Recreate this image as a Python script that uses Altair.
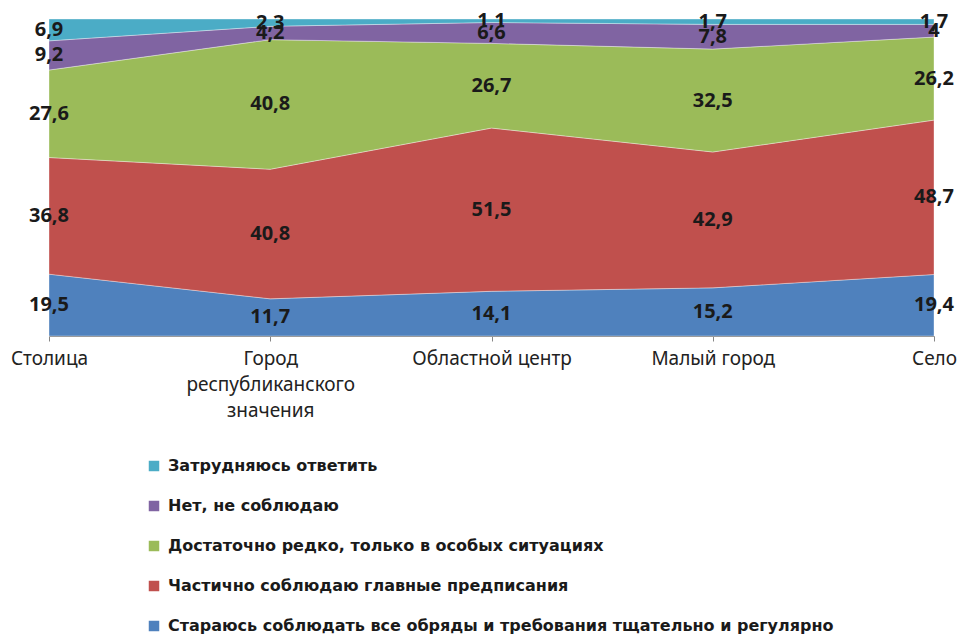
import altair as alt
import pandas as pd

categories = ["Столица", "Город\nреспубликанского\nзначения", "Областной центр", "Малый город", "Село"]

# series, bottom to top of the stack
series_names = [
    "Стараюсь соблюдать все обряды и требования тщательно и регулярно",
    "Частично соблюдаю главные предписания",
    "Достаточно редко, только в особых ситуациях",
    "Нет, не соблюдаю",
    "Затрудняюсь ответить",
]
s_regular = [19.5, 11.7, 14.1, 15.2, 19.4]
s_partly = [36.8, 40.8, 51.5, 42.9, 48.7]
s_rarely = [27.6, 40.8, 26.7, 32.5, 26.2]
s_no = [9.2, 4.2, 6.6, 7.8, 4.0]
s_hard = [6.9, 2.3, 1.1, 1.7, 1.7]
series_values = [s_regular, s_partly, s_rarely, s_no, s_hard]
series_colors = ["#4F81BD", "#C0504D", "#9BBB59", "#8064A2", "#4BACC6"]

rows = []
for i, (name, vals) in enumerate(zip(series_names, series_values)):
    for c, v in zip(categories, vals):
        rows.append({"cat": c, "series": name, "value": v, "order": i})
df = pd.DataFrame(rows)

legend_order = list(reversed(series_names))
legend_colors = list(reversed(series_colors))

base = alt.Chart(df).transform_stack(
    stack="value",
    groupby=["cat"],
    sort=[alt.SortField("order", order="ascending")],
    as_=["y0", "y1"],
    offset="normalize",
).transform_calculate(
    mid="(datum.y0 + datum.y1) / 2",
    lab="replace(format(datum.value, '.1~f'), '.', ',')",
)

x_enc = alt.X(
    "cat:N",
    sort=categories,
    scale=alt.Scale(type="point", padding=0),
    axis=alt.Axis(
        title=None,
        labelAngle=0,
        labelExpr="split(datum.label, '\\n')",
        labelFont="Noto Sans",
        labelFontSize=19,
        labelColor="#222222",
        labelLineHeight=26,
        labelPadding=8,
        tickSize=5,
        domainColor="#868686",
        tickColor="#868686",
        grid=False,
    ),
)

area = base.mark_area(stroke="white", strokeWidth=0.6, strokeOpacity=0.6).encode(
    x=x_enc,
    y=alt.Y("y1:Q", scale=alt.Scale(domain=[0, 1]), axis=None),
    y2="y0:Q",
    color=alt.Color(
        "series:N",
        scale=alt.Scale(domain=legend_order, range=legend_colors),
        legend=alt.Legend(
            title=None,
            orient="none",
            legendX=97,
            legendY=439,
            direction="vertical",
            symbolType="square",
            symbolSize=110,
            symbolStrokeWidth=0,
            labelFont="DejaVu Sans",
            labelFontSize=16,
            labelFontWeight="bold",
            labelColor="#1a1a1a",
            labelLimit=0,
            rowPadding=24,
            labelOffset=6,
            padding=0,
        ),
    ),
)

text = base.mark_text(
    font="Noto Sans", fontSize=20, fontWeight="bold", color="#1a1a1a"
).encode(
    x=x_enc,
    y=alt.Y("mid:Q", scale=alt.Scale(domain=[0, 1]), axis=None),
    text="lab:N",
)

chart = alt.layer(area, text).properties(
    width=885,
    height=317,
    padding={"left": 49, "right": 25, "top": 19, "bottom": 298},
    autosize=alt.AutoSizeParams(type="none"),
).configure_view(stroke=None)

chart.save("out.html", embed_options={"renderer": "svg", "actions": False})
